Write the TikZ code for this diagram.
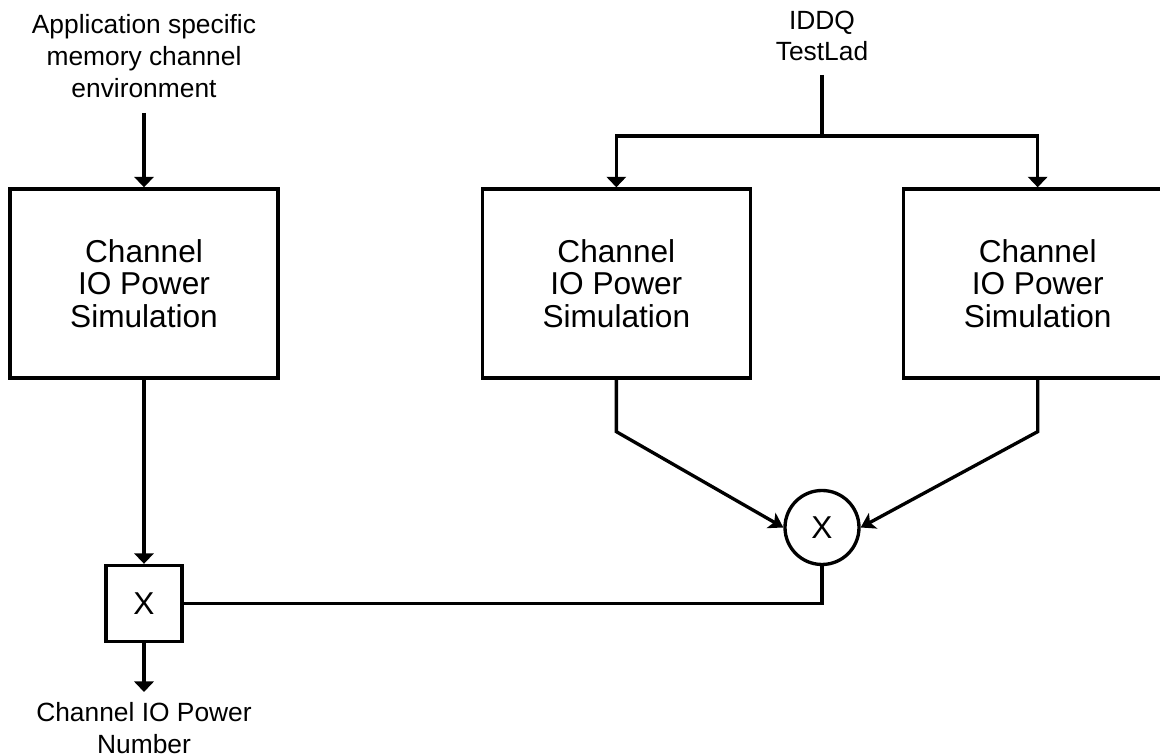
\documentclass[tikz,border=0pt]{standalone}
\usepackage{fontspec}
\setmainfont{Liberation Sans}
\usetikzlibrary{arrows.meta,positioning}

\begin{document}
\begin{tikzpicture}[line join=miter,>={Triangle[width=11pt,length=6pt]},line width=1.9pt,
  every node/.style={inner sep=1pt},
  simbox/.style={draw,minimum width=5.36cm,minimum height=3.78cm,align=center,font=\fontsize{18}{18.5}\selectfont},
  mulsq/.style={draw,minimum size=1.52cm,font=\fontsize{18}{18.5}\selectfont},
  mulcirc/.style={draw,circle,minimum size=1.48cm,inner sep=0pt,font=\fontsize{18}{18.5}\selectfont},
  lbl/.style={align=center,font=\fontsize{15}{18}\selectfont},
  diag/.style={-{Stealth[width=10pt,length=8pt,inset=2pt]}}]
  \useasboundingbox (0,0) rectangle (23.2,15.1);
  % simulation boxes
  \node[simbox] (simA) at (2.88,9.43) {Channel\\IO Power\\Simulation};
  \node[simbox,right=4.02cm of simA] (simB) {Channel\\IO Power\\Simulation};
  \node[simbox,right=3.0cm of simB] (simC) {Channel\\IO Power\\Simulation};
  % inputs and output
  \node[lbl,anchor=south,inner sep=8pt] (envtext) at (2.88,12.84) {Application specific\\memory channel\\environment};
  \node[lbl,anchor=south,inner sep=7pt] (iddq) at (16.44,13.6) {IDDQ\\TestLad};
  \coordinate (split) at (16.44,12.38);
  \node[mulcirc] (mulB) at (16.44,4.55) {X};
  \node[mulsq] (mulA) at (2.88,3.03) {X};
  \node[lbl,anchor=north,inner sep=5pt] (outtext) at (2.88,1.26) {Channel IO Power\\Number};
  % connectors
  \draw[->] (envtext.south) -- (simA.north);
  \draw (iddq.south) -- (split);
  \draw[->] (split) -| (simB.north);
  \draw[->] (split) -| (simC.north);
  \draw[diag] (simB.south) -- ++(0,-1.04) -- (mulB.west);
  \draw[diag] (simC.south) -- ++(0,-1.04) -- (mulB.east);
  \draw[->] (simA.south) -- (mulA.north);
  \draw (mulB.south) |- (mulA.east);
  \draw[->] (mulA.south) -- (outtext.north);
\end{tikzpicture}
\end{document}
